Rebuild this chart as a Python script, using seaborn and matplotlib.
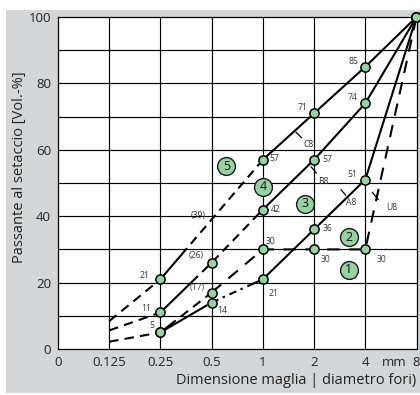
import numpy as np
import pandas as pd
import matplotlib
matplotlib.use("Agg")
import matplotlib.pyplot as plt
import seaborn as sns
from matplotlib.patches import Rectangle

# ---------------- data ----------------
sizes = [0.125, 0.25, 0.5, 1, 2, 4, 8]
c8 = [8.4, 21, 39, 57, 71, 85, 100]
b8 = [5.6, 11, 26, 42, 57, 74, 100]
a8 = [2.2, 5, 14, 21, 36, 51, 100]
u8 = [2.2, 5, 17, 30, 30, 30, 100]

x_ticks = [0.0625, 0.125, 0.25, 0.5, 1, 2, 4, 8]
x_ticklabels = ["0", "0.125", "0.25", "0.5", "1", "2", "4", "8"]
y_ticks = [0, 20, 40, 60, 80, 100]

point_labels_c8 = ["", "21", "(39)", "57", "71", "85", ""]
point_labels_b8 = ["", "11", "(26)", "42", "57", "74", ""]
point_labels_a8 = ["", "5", "14", "21", "36", "51", ""]
point_labels_u8 = ["", "", "(17)", "30", "30", "30", ""]

zones = ["1", "2", "3", "4", "5"]
zone_x = [3.2, 3.2, 1.77, 1.0, 0.61]
zone_y = [23.8, 33.6, 43.7, 48.9, 55.1]

curve_names = ["C8", "B8", "A8", "U8"]
curve_name_x = [1.86, 2.28, 3.3, 5.7]
curve_name_y = [61.5, 50.5, 44.0, 42.7]

GREEN = "#97d3a2"
BG = "#d5d6d8"
LW = 1.5

sns.set_theme(style="white")
plt.rcParams["font.family"] = ["Open Sans", "DejaVu Sans"]

fig = plt.figure(figsize=(4.20, 3.95), dpi=100)
fig.patch.set_facecolor("white")
fig.add_artist(Rectangle((6 / 420, 0.005), 1, 1 - 10 / 395 - 0.005,
                         transform=fig.transFigure, facecolor=BG,
                         edgecolor="none", zorder=0))

ax = fig.add_axes([58 / 420, 1 - 349 / 395, (416.5 - 58) / 420, (349 - 17) / 395])
ax.set_facecolor("white")
ax.set_xscale("log", base=2)
ax.set_xlim(0.0625, 8)
ax.set_ylim(0, 100)

# grid
for yv in range(10, 100, 10):
    ax.axhline(yv, color="black", lw=0.85, zorder=1)
for xv in x_ticks[1:-1]:
    ax.axvline(xv, color="black", lw=0.85, zorder=1)
for sp in ax.spines.values():
    sp.set_color("black")
    sp.set_linewidth(0.9)
    sp.set_visible(True)

unit = LW * fig.dpi / 72.0


def path_len(xs, ys):
    pts = ax.transData.transform(np.column_stack([xs, ys]))
    return float(np.sum(np.hypot(*np.diff(pts, axis=0).T)))


def mixed_style(xs, ys, f_start, f_end, seq):
    """solid -> repeated (off, on, ...) seq -> solid, as a dash pattern"""
    L = path_len(xs, ys) / unit
    s = max(f_start * L, 0.01)
    e = f_end * L
    pat = [s]
    pos = s
    while pos < e:
        for k in range(0, len(seq), 2):
            pat += [seq[k], seq[k + 1]]
            pos += seq[k] + seq[k + 1]
    pat += [seq[0], 1000, 1]
    return (0, tuple(float(v) for v in pat))


def draw(xs, ys, ls, z=3):
    df = pd.DataFrame({"x": xs, "y": ys})
    sns.lineplot(data=df, x="x", y="y", ax=ax, color="black", lw=LW,
                 linestyle=ls, sort=False, zorder=z, estimator=None)


short_dash = (0, (4.5, 3))

# fine-sand part: dashed
for cv in [c8, b8, a8]:
    draw(sizes[0:2], cv[0:2], short_dash)

# C8
draw(sizes[1:4], c8[1:4], mixed_style(sizes[1:4], c8[1:4], 0.26, 0.84, (2.8, 4.2)))
draw(sizes[3:], c8[3:], "-")
# B8
draw(sizes[1:4], b8[1:4], mixed_style(sizes[1:4], b8[1:4], 0.36, 0.78, (2.8, 4.2)))
draw(sizes[3:], b8[3:], "-")
# A8
draw(sizes[1:4], a8[1:4], mixed_style(sizes[1:4], a8[1:4], 0.47, 0.72, (2.4, 3.6, 2.2, 1.2)))
draw(sizes[3:], a8[3:], "-")
# U8 (dashed)
draw(sizes[1:3], u8[1:3], mixed_style(sizes[1:3], u8[1:3], 0.3, 1.0, (3, 4.5)))
draw(sizes[2:], u8[2:], (0, (6, 4.5)))

# markers
mk = pd.DataFrame({
    "x": sizes[1:] + sizes[1:] + sizes[1:] + sizes[1:],
    "y": c8[1:] + b8[1:] + a8[1:] + u8[1:],
    "show": [1, 0, 1, 1, 1, 1] + [1] * 6 + [1] * 6 + [1] * 6,
})
mk = mk[mk["show"] == 1]
sns.scatterplot(data=mk, x="x", y="y", ax=ax, color=GREEN, edgecolor="black",
                linewidth=1.1, s=44, zorder=5, clip_on=False)

# point labels
fs_pt = 6.2
lab_col = "#333333"
offs_c8 = [None, (-8, 3, "right"), (-4, 3, "right"), (5, 1, "left"), (-5, 4, "right"), (-5, 4, "right"), None]
offs_b8 = [None, (-7, 3, "right"), (-6, 5, "right"), (6, 0, "left"), (6, 0, "left"), (-6, 4, "right"), None]
offs_a8 = [None, (-4, 5, "right"), (4, -6, "left"), (4, -10, "left"), (6, 1, "left"), (-6, 4, "right"), None]
offs_u8 = [None, None, (-5, 4, "right"), (2, 6, "left"), (5, -7, "left"), (8, -7, "left"), None]
for cv, labs, offs in [(c8, point_labels_c8, offs_c8), (b8, point_labels_b8, offs_b8),
                       (a8, point_labels_a8, offs_a8), (u8, point_labels_u8, offs_u8)]:
    for xv, yv, t, o in zip(sizes, cv, labs, offs):
        if t and o:
            ax.annotate(t, (xv, yv), xytext=(o[0], o[1]), textcoords="offset points",
                        ha=o[2], va="center", fontsize=fs_pt, color=lab_col, zorder=6)

# curve name labels with small ticks
tick_pts = [(1.56, 65.4, 1.69, 63.6), (1.92, 54.9, 2.06, 53.0),
            (2.88, 48.0, 3.07, 46.3), (4.40, 47.2, 4.77, 45.0)]
for name, xv, yv, tk in zip(curve_names, curve_name_x, curve_name_y, tick_pts):
    ax.text(xv, yv, name, fontsize=fs_pt, color=lab_col, ha="center", va="center", zorder=6)
    ax.plot([tk[0], tk[2]], [tk[1], tk[3]], color="black", lw=0.9, zorder=4)

# zones
zdf = pd.DataFrame({"x": zone_x, "y": zone_y})
sns.scatterplot(data=zdf, x="x", y="y", ax=ax, color=GREEN, edgecolor="#1a1a1a",
                linewidth=1.0, s=165, zorder=6)
for t, xv, yv in zip(zones, zone_x, zone_y):
    ax.text(xv, yv, t, fontsize=9, ha="center", va="center", color="#111111", zorder=7)

# ticks & labels
TICK_FS = 9.5
ax.set_xticks(x_ticks)
ax.set_xticklabels(x_ticklabels)
ax.xaxis.set_minor_locator(matplotlib.ticker.NullLocator())
ax.set_yticks(y_ticks)
ax.tick_params(axis="both", length=0, labelsize=TICK_FS, colors="#222222", pad=5)
ax.set_xlabel("")
ax.set_ylabel("")
ax.annotate("mm", (5.95, 0), xycoords=("data", "axes fraction"), xytext=(0, -5),
            textcoords="offset points", fontsize=TICK_FS, ha="center", va="top",
            color="#222222")
fig.text(416 / 420, 1 - 381 / 395, "Dimensione maglia | diametro fori)", ha="right",
         va="center", fontsize=10.5, color="#222222")
fig.text(20 / 420, 1 - 167 / 395, "Passante al setaccio [Vol.-%]", rotation=90,
         ha="center", va="center", fontsize=10.5, color="#222222")

fig.savefig("out.png", dpi=100, facecolor=fig.get_facecolor())
